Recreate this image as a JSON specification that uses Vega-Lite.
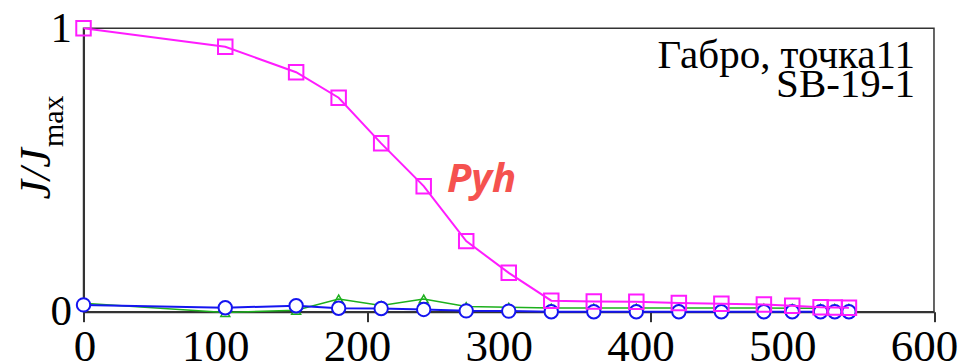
{
  "$schema": "https://vega.github.io/schema/vega-lite/v6.json",
  "autosize": "none",
  "padding": {"left": 83.5, "top": 28.3, "right": 29, "bottom": 52},
  "width": 850.5,
  "height": 283.4,
  "background": "white",
  "config": {
    "view": {"stroke": "#333", "strokeWidth": 1.5},
    "axis": {"grid": false, "domainColor": "#333", "domainWidth": 2, "tickColor": "#333", "tickWidth": 2, "labelFont": "Times New Roman, Liberation Serif, serif", "labelFontSize": 43, "labelColor": "black", "title": null}
  },
  "datasets": {
    "series": [
      {"x": 0, "y": 1.0, "s": "Pyh"}, {"x": 100, "y": 0.935, "s": "Pyh"}, {"x": 150, "y": 0.845, "s": "Pyh"}, {"x": 180, "y": 0.755, "s": "Pyh"}, {"x": 210, "y": 0.594, "s": "Pyh"}, {"x": 240, "y": 0.443, "s": "Pyh"}, {"x": 270, "y": 0.249, "s": "Pyh"}, {"x": 300, "y": 0.137, "s": "Pyh"}, {"x": 330, "y": 0.039, "s": "Pyh"}, {"x": 360, "y": 0.036, "s": "Pyh"}, {"x": 390, "y": 0.035, "s": "Pyh"}, {"x": 420, "y": 0.031, "s": "Pyh"}, {"x": 450, "y": 0.028, "s": "Pyh"}, {"x": 480, "y": 0.025, "s": "Pyh"}, {"x": 500, "y": 0.021, "s": "Pyh"}, {"x": 520, "y": 0.016, "s": "Pyh"}, {"x": 530, "y": 0.015, "s": "Pyh"}, {"x": 540, "y": 0.014, "s": "Pyh"},
      {"x": 0, "y": 0.03, "s": "green"}, {"x": 100, "y": -0.003, "s": "green"}, {"x": 150, "y": 0.005, "s": "green"}, {"x": 180, "y": 0.045, "s": "green"}, {"x": 210, "y": 0.022, "s": "green"}, {"x": 240, "y": 0.045, "s": "green"}, {"x": 270, "y": 0.018, "s": "green"}, {"x": 300, "y": 0.016, "s": "green"}, {"x": 330, "y": 0.013, "s": "green"}, {"x": 360, "y": 0.013, "s": "green"}, {"x": 390, "y": 0.013, "s": "green"}, {"x": 420, "y": 0.013, "s": "green"}, {"x": 450, "y": 0.013, "s": "green"}, {"x": 480, "y": 0.013, "s": "green"}, {"x": 500, "y": 0.012, "s": "green"}, {"x": 520, "y": 0.012, "s": "green"}, {"x": 530, "y": 0.012, "s": "green"}, {"x": 540, "y": 0.012, "s": "green"},
      {"x": 0, "y": 0.024, "s": "blue"}, {"x": 100, "y": 0.014, "s": "blue"}, {"x": 150, "y": 0.021, "s": "blue"}, {"x": 180, "y": 0.012, "s": "blue"}, {"x": 210, "y": 0.011, "s": "blue"}, {"x": 240, "y": 0.008, "s": "blue"}, {"x": 270, "y": 0.003, "s": "blue"}, {"x": 300, "y": 0.002, "s": "blue"}, {"x": 330, "y": 0.0, "s": "blue"}, {"x": 360, "y": 0.0, "s": "blue"}, {"x": 390, "y": 0.0, "s": "blue"}, {"x": 420, "y": 0.0, "s": "blue"}, {"x": 450, "y": 0.0, "s": "blue"}, {"x": 480, "y": 0.0, "s": "blue"}, {"x": 500, "y": 0.0, "s": "blue"}, {"x": 520, "y": 0.0, "s": "blue"}, {"x": 530, "y": 0.0, "s": "blue"}, {"x": 540, "y": 0.0, "s": "blue"}
    ],
    "note": [
      {"x": 586.6, "y": 0.86, "text": "Габро, точка11"},
      {"x": 586.6, "y": 0.757, "text": "SB-19-1"}
    ],
    "pyh": [{"x": 256.4, "y": 0.422, "text": "Pyh"}],
    "ytitle": [{"x": -23.6, "y": 0.486, "text": "J/J"}],
    "ysub": [{"x": -14.5, "y": 0.672, "text": "max"}]
  },
  "layer": [
    {
      "data": {"name": "series"},
      "transform": [{"filter": "datum.s === 'green'"}],
      "mark": {"type": "line", "color": "#1DB01D", "strokeWidth": 1.5, "clip": false, "point": {"shape": "triangle-up", "filled": false, "size": 80, "stroke": "#1DB01D", "strokeWidth": 1.5}},
      "encoding": {
        "x": {"field": "x", "type": "quantitative", "scale": {"domain": [0, 600], "nice": false},
              "axis": {"values": [0, 100, 200, 300, 400, 500, 600], "tickSize": 10, "labelPadding": 3, "labelFontSize": 45, "labelFlush": false,
                       "labelOffset": {"condition": {"test": "datum.value === 0", "value": 1}, "value": -10},
                       "tickOpacity": {"condition": {"test": "datum.value % 200 === 0", "value": 1}, "value": 0}}},
        "y": {"field": "y", "type": "quantitative", "scale": {"domain": [0, 1], "nice": false},
              "axis": {"values": [0, 1], "format": "d", "ticks": false, "labelPadding": 12, "labelFlush": false}}
      }
    },
    {
      "data": {"name": "series"},
      "transform": [{"filter": "datum.s === 'blue'"}],
      "mark": {"type": "line", "color": "#1515F0", "strokeWidth": 2, "clip": false, "point": {"shape": "circle", "filled": true, "fill": "white", "size": 180, "stroke": "#1515F0", "strokeWidth": 2}},
      "encoding": {
        "x": {"field": "x", "type": "quantitative"},
        "y": {"field": "y", "type": "quantitative"}
      }
    },
    {
      "data": {"name": "series"},
      "transform": [{"filter": "datum.s === 'Pyh'"}],
      "mark": {"type": "line", "color": "#FF1CFF", "strokeWidth": 2, "clip": false, "point": {"shape": "square", "filled": false, "size": 210, "stroke": "#FF1CFF", "strokeWidth": 2}},
      "encoding": {
        "x": {"field": "x", "type": "quantitative"},
        "y": {"field": "y", "type": "quantitative"}
      }
    },
    {
      "data": {"name": "note"},
      "mark": {"type": "text", "font": "Times New Roman, Liberation Serif, serif", "fontSize": 41, "align": "right", "baseline": "alphabetic", "color": "black"},
      "encoding": {
        "x": {"field": "x", "type": "quantitative"},
        "y": {"field": "y", "type": "quantitative"},
        "text": {"field": "text"}
      }
    },
    {
      "data": {"name": "pyh"},
      "mark": {"type": "text", "font": "Open Sans", "fontSize": 40, "fontWeight": "bold", "fontStyle": "italic", "align": "left", "baseline": "alphabetic", "color": "#F5524F"},
      "encoding": {
        "x": {"field": "x", "type": "quantitative"},
        "y": {"field": "y", "type": "quantitative"},
        "text": {"field": "text"}
      }
    },
    {
      "data": {"name": "ytitle"},
      "mark": {"type": "text", "font": "Times New Roman, Liberation Serif, serif", "fontSize": 44, "fontStyle": "italic", "angle": 270, "align": "center", "baseline": "alphabetic", "color": "black", "clip": false},
      "encoding": {
        "x": {"field": "x", "type": "quantitative"},
        "y": {"field": "y", "type": "quantitative"},
        "text": {"field": "text"}
      }
    },
    {
      "data": {"name": "ysub"},
      "mark": {"type": "text", "font": "Times New Roman, Liberation Serif, serif", "fontSize": 30, "angle": 270, "align": "center", "baseline": "alphabetic", "color": "black", "clip": false},
      "encoding": {
        "x": {"field": "x", "type": "quantitative"},
        "y": {"field": "y", "type": "quantitative"},
        "text": {"field": "text"}
      }
    }
  ]
}
